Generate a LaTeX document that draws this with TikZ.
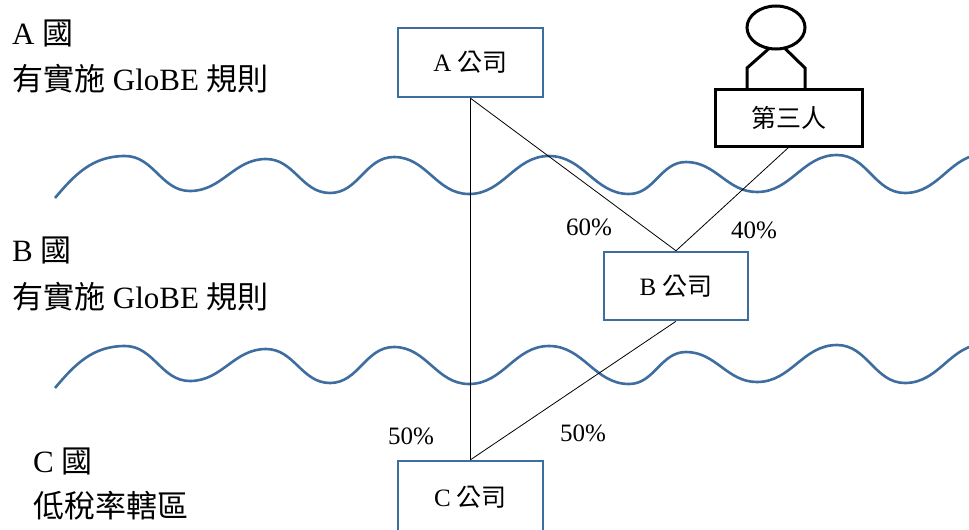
\documentclass[tikz,border=0pt]{standalone}
\usepackage{fontspec}
\setmainfont{Liberation Serif}
\newfontfamily\cjk{Noto Sans CJK TC}
\definecolor{waveblue}{RGB}{62,109,160}

\begin{document}
\begin{tikzpicture}[x=1pt,y=1pt,
  company/.style={draw=waveblue, line width=2.5pt, minimum width=145pt, minimum height=69pt, font=\fontsize{25}{30}\selectfont},
  country/.style={anchor=base west, inner sep=0pt, font=\fontsize{31}{37}\selectfont},
  share/.style={inner sep=0pt, font=\fontsize{25}{30}\selectfont},
  wave/.style={draw=waveblue, line width=2.6pt}]

\useasboundingbox (0,0) rectangle (969,-530);

\draw[wave] (55,-198) to[out=50,in=180] (125,-156) to[out=0,in=180] (190,-191)
  to[out=0,in=180] (266,-159) to[out=0,in=180] (330,-193) to[out=0,in=180] (394,-157)
  to[out=0,in=180] (469,-194) to[out=0,in=180] (549,-156) to[out=0,in=180] (629,-194)
  to[out=0,in=180] (686,-162) to[out=0,in=180] (757,-192) to[out=0,in=180] (837,-155)
  to[out=0,in=180] (905,-193) to[out=0,in=180] (985,-154);
\draw[wave] (55,-388) to[out=50,in=180] (125,-346) to[out=0,in=180] (190,-381)
  to[out=0,in=180] (266,-349) to[out=0,in=180] (330,-383) to[out=0,in=180] (394,-347)
  to[out=0,in=180] (469,-384) to[out=0,in=180] (549,-346) to[out=0,in=180] (629,-384)
  to[out=0,in=180] (686,-352) to[out=0,in=180] (757,-382) to[out=0,in=180] (837,-345)
  to[out=0,in=180] (905,-383) to[out=0,in=180] (985,-344);

\node[company] (A) at (470.5,-62.5) {A {\cjk 公司}};
\node[company, minimum width=144pt, minimum height=68pt] (B) at (676,-286) {B {\cjk 公司}};
\node[company, minimum height=72pt] (C) at (470.5,-497) {C {\cjk 公司}};
\node[draw, line width=3pt, minimum width=147pt, minimum height=57pt,
  font=\fontsize{25}{30}\selectfont] (third) at (788.5,-117.5) {{\cjk 第三人}};

% person
\draw[line width=3pt] (776,-27.5) ellipse (29 and 21.5);
\draw[line width=3pt] (769,-48.5) -- (747,-68) -- (747,-88);
\draw[line width=3pt] (785,-48.5) -- (805,-68) -- (805,-88);

\draw[line width=0.8pt] (A.south) -- (C.north);
\draw[line width=0.8pt] (A.south) -- (B.north);
\draw[line width=0.8pt] (third.south) -- (B.north);
\draw[line width=0.8pt] (B.south) -- (C.north);

\node[share] (s60) at (589,-227) {60\%};
\node[share] (s40) at (754,-230) {40\%};
\node[share] (s50a) at (411,-436) {50\%};
\node[share] (s50b) at (583,-433) {50\%};

\node[country] (a1) at (12,-44) {A {\cjk 國}};
\node[country] (a2) at (12,-90) {{\cjk 有實施} GloBE {\cjk 規則}};
\node[country] (b1) at (12,-261) {B {\cjk 國}};
\node[country] (b2) at (12,-308) {{\cjk 有實施} GloBE {\cjk 規則}};
\node[country] (c1) at (33,-472) {C {\cjk 國}};
\node[country] (c2) at (33,-517) {{\cjk 低稅率轄區}};

\end{tikzpicture}
\end{document}
